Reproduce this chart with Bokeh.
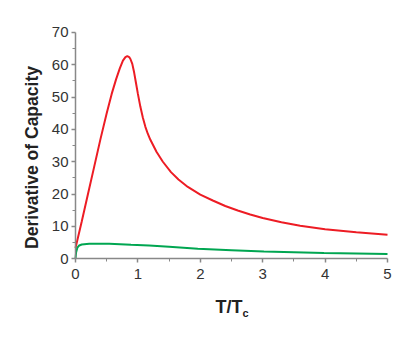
import math
from bokeh.plotting import figure
from bokeh.models import Label, Range1d, FixedTicker
from bokeh.embed import file_html
from bokeh.resources import INLINE

# Red curve
red_x = [0.0, 0.1, 0.2, 0.3, 0.4, 0.5, 0.58, 0.65, 0.71, 0.76, 0.8, 0.83, 0.86,
         0.88, 0.91, 0.94, 0.97, 1.0, 1.04, 1.08, 1.12, 1.16, 1.2, 1.3, 1.4,
         1.53, 1.65, 1.8, 2.0, 2.2, 2.4, 2.6, 2.8, 3.0, 3.3, 3.6, 4.0, 4.5, 5.0]
red_y = [3.3, 11.5, 20.0, 28.5, 37.0, 45.0, 51.0, 55.5, 58.9, 61.3, 62.4, 62.7, 62.4,
         61.8, 60.3, 57.6, 54.3, 51.0, 47.0, 43.6, 40.8, 38.6, 36.8, 33.0, 30.0,
         26.8, 24.5, 22.2, 19.8, 18.0, 16.3, 14.9, 13.7, 12.6, 11.3, 10.2, 9.1, 8.2, 7.4]

# Green curve
green_x = [0.0, 0.01, 0.03, 0.06, 0.1, 0.22, 0.54, 0.89, 1.18, 1.5, 1.96, 2.5,
           3.02, 3.5, 3.98, 4.5, 5.0]
green_y = [0.0, 2.0, 3.4, 4.1, 4.4, 4.6, 4.6, 4.3, 4.1, 3.7, 3.1, 2.65,
           2.25, 2.0, 1.75, 1.6, 1.45]

x_ticks = [0, 1, 2, 3, 4, 5]
x_minor = [0.5, 1.5, 2.5, 3.5, 4.5]
y_ticks = [0, 10, 20, 30, 40, 50, 60, 70]
y_minor = [5, 15, 25, 35, 45, 55, 65]

x_title = "T/T"
x_title_sub = "c"
y_title = "Derivative of Capacity"

# The frame covers the whole canvas; axes are pinned at x=0 / y=0 so that
# every text sits inside the frame.
p = figure(width=407, height=331, output_backend="svg", toolbar_location=None,
           x_range=Range1d(-1.2019, 5.3205), y_range=Range1d(-22.53, 79.9),
           min_border=0)
p.outline_line_color = None
p.xgrid.visible = False
p.ygrid.visible = False
p.background_fill_color = "white"
p.border_fill_color = "white"

p.line(red_x, red_y, line_color="#ed1c24", line_width=2)
p.line(green_x, green_y, line_color="#00a651", line_width=2)

for ax in (p.xaxis[0], p.yaxis[0]):
    ax.axis_line_color = "#888888"
    ax.major_tick_line_color = "#888888"
    ax.minor_tick_line_color = "#888888"
    ax.axis_line_width = 1.5
    ax.major_tick_line_width = 1.5
    ax.major_tick_in = 0
    ax.major_tick_out = 4
    ax.minor_tick_in = 0
    ax.minor_tick_out = 3
    ax.major_label_text_font = "Liberation Sans"
    ax.major_label_text_font_size = "15px"
    ax.major_label_text_color = "#333333"

p.xaxis[0].ticker = FixedTicker(ticks=x_ticks, minor_ticks=x_minor)
p.yaxis[0].ticker = FixedTicker(ticks=y_ticks, minor_ticks=y_minor)
p.xaxis[0].fixed_location = 0
p.yaxis[0].fixed_location = 0
p.xaxis[0].bounds = (0, 5)
p.yaxis[0].bounds = (0, 70)
p.xaxis[0].major_label_standoff = 6
p.yaxis[0].major_label_standoff = 3

p.add_layout(Label(x=-0.697, y=31.32, text=y_title, angle=math.pi / 2,
                   text_font="Liberation Sans", text_font_style="bold",
                   text_font_size="17.5px", text_color="#222222",
                   text_align="center", text_baseline="middle"))
p.add_layout(Label(x=2.244, y=-14.92, text=x_title,
                   text_font="Liberation Sans", text_font_style="bold",
                   text_font_size="18px", text_color="#222222",
                   text_baseline="alphabetic"))
p.add_layout(Label(x=2.676, y=-16.87, text=x_title_sub,
                   text_font="Liberation Sans", text_font_style="bold",
                   text_font_size="11px", text_color="#222222",
                   text_baseline="alphabetic"))

open("out.html", "w").write(file_html(p, INLINE))
